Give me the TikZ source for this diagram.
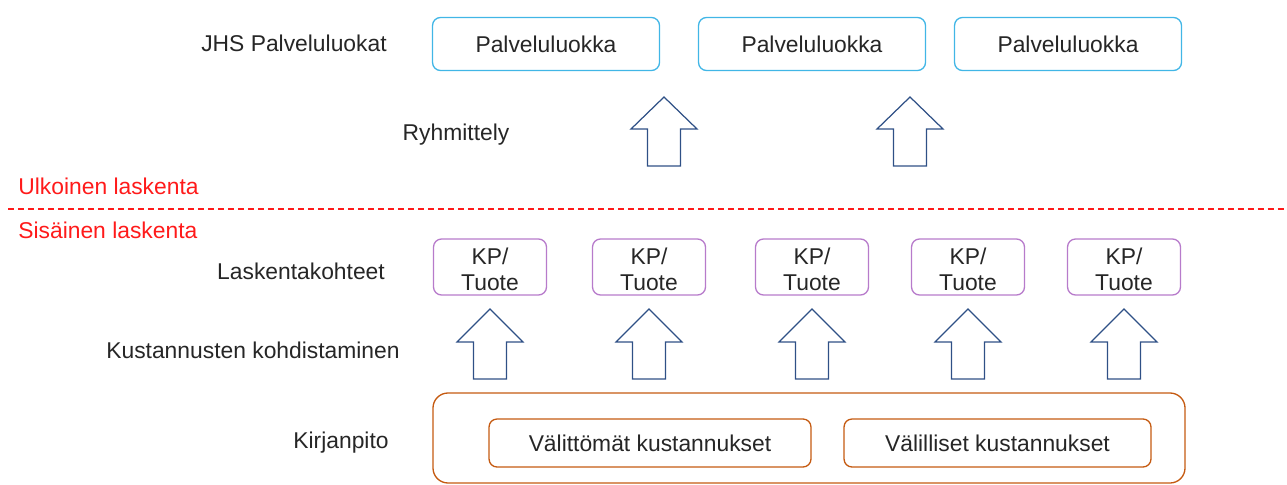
\documentclass[tikz,border=0pt]{standalone}
\usepackage{fontspec}
\setmainfont{Liberation Sans}
\definecolor{jhsblue}{HTML}{41B6E6}
\definecolor{kppurple}{HTML}{B77BCB}
\definecolor{kirjorange}{HTML}{C55A11}
\definecolor{arrowblue}{HTML}{2F5086}
\definecolor{textgray}{HTML}{262626}
\definecolor{labelred}{HTML}{FF1A1A}

\begin{document}
\begin{tikzpicture}[
	%scale=1,
	x=0.02cm, y=-0.02cm,
	every node/.style={font=\fontsize{13}{14.8}\selectfont, text=textgray},
	luokka/.style={draw=jhsblue, line width=0.75pt, rounded corners=0.16cm,
		minimum width=4.54cm, minimum height=1.06cm},
	kohde/.style={draw=kppurple, line width=0.75pt, rounded corners=0.16cm,
		minimum width=2.26cm, minimum height=1.12cm, align=center, inner sep=0pt},
	kulu/.style={draw=kirjorange, line width=0.75pt, rounded corners=0.16cm,
		minimum height=0.96cm},
	osio/.style={text=labelred, anchor=west, inner sep=0pt},
	nuoli/.style={draw=arrowblue, line width=0.7pt, line join=miter}
	]
	\useasboundingbox (0,0) rectangle (1287,484);
	
	% palveluluokat
	\node[luokka] (pl1) at (546,44) {Palveluluokka};
	\node[luokka] (pl2) at (812,44) {Palveluluokka};
	\node[luokka] (pl3) at (1068,44) {Palveluluokka};
	
	% ryhmittely
	\foreach \x in {664,910}
		\draw[nuoli] (\x,97) -- (\x+33,129) -- (\x+16.5,129) -- (\x+16.5,166)
			-- (\x-16.5,166) -- (\x-16.5,129) -- (\x-33,129) -- cycle;
	
	% raja
	\draw[labelred, line width=0.6pt, dash pattern=on 0.12cm off 0.08cm] (8,209) -- (1287,209);
	\node[osio] (ulk) at (18,186) {Ulkoinen laskenta};
	\node[osio] (sis) at (18,230) {Sisäinen laskenta};
	
	% laskentakohteet
	\node[kohde] (kp1) at (490,267) {};
	\node[kohde] (kp2) at (649,267) {};
	\node[kohde] (kp3) at (812,267) {};
	\node[kohde] (kp4) at (968,267) {};
	\node[kohde] (kp5) at (1124,267) {};
	\foreach \k in {1,...,5}
		\node[align=center, inner sep=0pt] (kpt\k) at ([yshift=-0.04cm]kp\k.center) {KP/\\Tuote};
	
	% kohdistaminen
	\foreach \x in {490,649,812,968,1124}
		\draw[nuoli] (\x,309) -- (\x+33,342) -- (\x+16.5,342) -- (\x+16.5,379)
			-- (\x-16.5,379) -- (\x-16.5,342) -- (\x-33,342) -- cycle;
	
	% kirjanpito
	\draw[kirjorange, line width=0.75pt, rounded corners=0.3cm] (433,393) rectangle (1185,483);
	\node[kulu, minimum width=6.44cm] (vali) at (650,443) {Välittömät kustannukset};
	\node[kulu, minimum width=6.14cm] (valil) at (997.5,443) {Välilliset kustannukset};
	
	% tasot
	\node (jhs) at (294,43) {JHS Palveluluokat};
	\node (ryhm) at (456,135) {Ryhmittely};
	\node (lask) at (301,271) {Laskentakohteet};
	\node (kust) at (253,350) {Kustannusten kohdistaminen};
	\node (kirj) at (341,443) {Kirjanpito};
\end{tikzpicture}
\end{document}
